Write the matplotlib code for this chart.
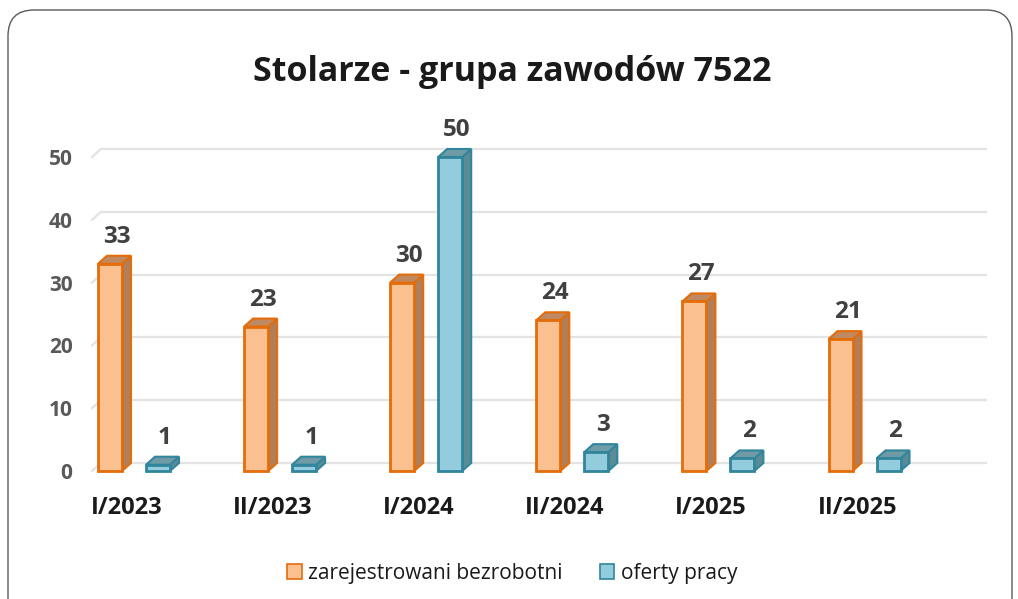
import numpy as np
import matplotlib
matplotlib.use('Agg')
import matplotlib.pyplot as plt
from matplotlib.patches import Rectangle, Polygon, Patch, FancyBboxPatch
from matplotlib.transforms import IdentityTransform, offset_copy

# data
periods = ['I/2023', 'II/2023', 'I/2024', 'II/2024', 'I/2025', 'II/2025']
bezrobotni = [33, 23, 30, 24, 27, 21]
oferty = [1, 1, 50, 3, 2, 2]

plt.rcParams['font.family'] = ['Open Sans', 'DejaVu Sans']

W, H = 1018, 599
fig = plt.figure(figsize=(W / 100, H / 100), dpi=100)

# frame around chart (pixels)
frame = FancyBboxPatch((8, -30), 1004, 619, boxstyle='round,pad=0,rounding_size=26',
                       transform=IdentityTransform(), fc='none', ec='#5a5a5a', lw=1.0)
fig.patches.append(frame)

ax_l, ax_r, ax_b, ax_t = 92, 977, 471, 157
ax = fig.add_axes([ax_l / W, 1 - ax_b / H, (ax_r - ax_l) / W, (ax_b - ax_t) / H])
ax.patch.set_alpha(0)
xmin, xmax = -0.2875, 5.77
ax.set_xlim(xmin, xmax)
ax.set_ylim(0, 50)

ppx = (ax_r - ax_l) / (xmax - xmin)   # pixels per x unit
ppy = (ax_b - ax_t) / 50.0            # pixels per y unit
depth_x, depth_y = 9, 8               # 3d depth in pixels
dx = depth_x / ppx
dy = depth_y / ppy

# back wall gridlines + short side-wall strokes
back = offset_copy(ax.transData, fig=fig, x=depth_x, y=depth_y, units='dots')
yticks = [0, 10, 20, 30, 40, 50]
for yv in yticks:
    ax.plot([xmin, xmax], [yv, yv], color='#e3e3e3', lw=1.6, transform=back,
            clip_on=False, zorder=0)
    ax.plot([xmin, xmin + dx], [yv, yv + dy], color='#e3e3e3', lw=1.6,
            clip_on=False, zorder=0)

def bar3d(xc, h, w, face, edge, side, top):
    x0, x1 = xc - w / 2, xc + w / 2
    ax.add_patch(Polygon([(x1, 0), (x1 + dx, dy), (x1 + dx, h + dy), (x1, h)],
                         closed=True, fc=side, ec=edge, lw=1.5, clip_on=False, zorder=3))
    ax.add_patch(Polygon([(x0, h), (x0 + dx, h + dy), (x1 + dx, h + dy), (x1, h)],
                         closed=True, fc=top, ec=edge, lw=1.5, clip_on=False, zorder=3))
    ax.add_patch(Rectangle((x0, 0), w, h, fc=face, ec=edge, lw=2.0,
                           clip_on=False, zorder=4))

x = np.arange(len(periods))
w = 24 / ppx
off = 24 / ppx
for i in range(len(periods)):
    bar3d(x[i] - off, bezrobotni[i], w, '#fac090', '#e46c0a', '#b07f5a', '#bf8a62')
    bar3d(x[i] + off, oferty[i], w, '#93cddd', '#31859c', '#5b8c96', '#6e9ba5')
    for xc, v in [(x[i] - off, bezrobotni[i]), (x[i] + off, oferty[i])]:
        ax.annotate(str(v), (xc, v + dy), xytext=(5, 5), textcoords='offset points',
                    ha='center', va='bottom', fontsize=17.5, fontweight='bold',
                    color='#404040', annotation_clip=False)

ax.set_yticks(yticks)
ax.set_yticklabels([str(t) for t in yticks], fontsize=15, fontweight='bold', color='#595959')
ax.tick_params(axis='y', length=0, pad=14)
ax.set_xticks(x - 0.05)
ax.set_xticklabels(periods, fontsize=17, fontweight='bold', color='#1a1a1a')
ax.tick_params(axis='x', length=0, pad=18)
for s in ax.spines.values():
    s.set_visible(False)

fig.text(0.503, 1 - 72 / H, 'Stolarze - grupa zawodów 7522', ha='center', va='center',
         fontsize=24.5, fontweight='bold', color='#1a1a1a')

handles = [Patch(fc='#fac090', ec='#e46c0a', lw=1.2, label='zarejestrowani bezrobotni'),
           Patch(fc='#93cddd', ec='#31859c', lw=1.2, label='oferty pracy')]
fig.legend(handles=handles, loc='center', bbox_to_anchor=(0.503, 1 - 573 / H), ncol=2,
           frameon=False, fontsize=15, handlelength=0.7, handleheight=0.7,
           handletextpad=0.3, columnspacing=1.8, labelcolor='#1a1a1a')

fig.savefig('out.png', dpi=100)
